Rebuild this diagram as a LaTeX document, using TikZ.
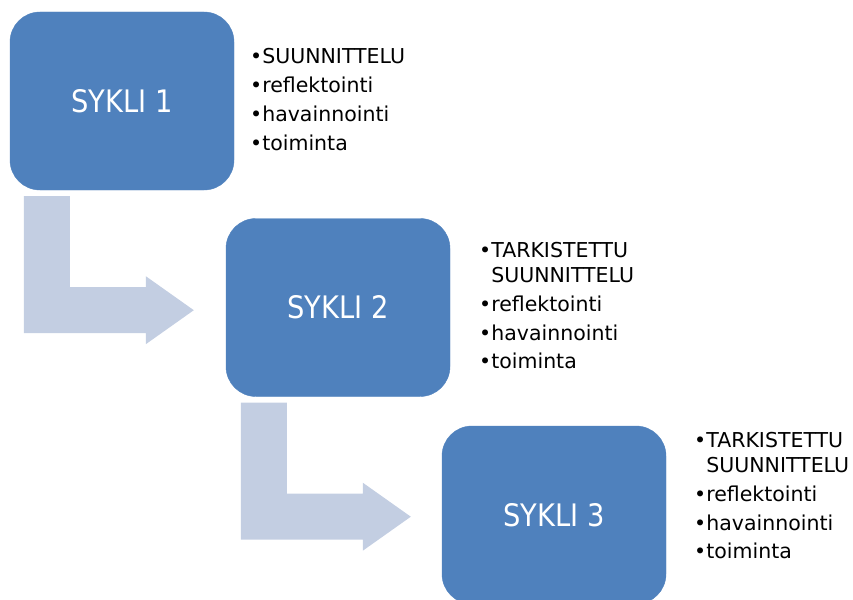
\documentclass[tikz,border=0pt]{standalone}
\usepackage{fontspec}
\setmainfont{DejaVu Sans}
\newfontfamily\labelfont{DejaVu Sans}[FakeStretch=0.88]
\usetikzlibrary{calc}
\definecolor{boxblue}{HTML}{4F81BD}
\definecolor{arrowblue}{HTML}{C3CEE2}
\tikzset{
  cyclebox/.style={draw=boxblue, fill=boxblue, rounded corners=30pt,
    minimum width=224pt, minimum height=178pt, inner sep=0pt,
    text=white, font=\labelfont\fontsize{31}{36}\selectfont},
  itemlist/.style={anchor=base west, inner sep=0pt, text=black,
    font=\fontsize{20.5}{28.7}\selectfont},
  pics/bentarrow/.style={code={
    \fill[arrowblue] (0,0) -- (46,0) -- (46,91) -- (122,91) -- (122,80)
      -- (170,114) -- (122,148) -- (122,137) -- (0,137) -- cycle;}}
}
\begin{document}
\begin{tikzpicture}[x=1pt,y=-1pt]
\useasboundingbox (0,0) rectangle (853,599);
\node[cyclebox] (box1) at (122,101) {SYKLI 1};
\node[cyclebox] (box2) at (338,307.5) {SYKLI 2};
\node[cyclebox] (box3) at (554,515) {SYKLI 3};
\pic at ($(box1.south west)+(14,6)$) {bentarrow};
\pic at ($(box2.south west)+(15,6)$) {bentarrow};
\node[itemlist] (list1) at (250,64) {\begin{tabular}[t]{@{}l@{}}•SUUNNITTELU\\ •reflektointi\\ •havainnointi\\ •toiminta\end{tabular}};
\node[itemlist] (list2) at (479,257) {\begin{tabular}[t]{@{}l@{}}•TARKISTETTU\\[-3pt]\phantom{•}SUUNNITTELU\\ •reflektointi\\ •havainnointi\\ •toiminta\end{tabular}};
\node[itemlist] (list3) at (694,447) {\begin{tabular}[t]{@{}l@{}}•TARKISTETTU\\[-3pt]\phantom{•}SUUNNITTELU\\ •reflektointi\\ •havainnointi\\ •toiminta\end{tabular}};
\end{tikzpicture}
\end{document}
